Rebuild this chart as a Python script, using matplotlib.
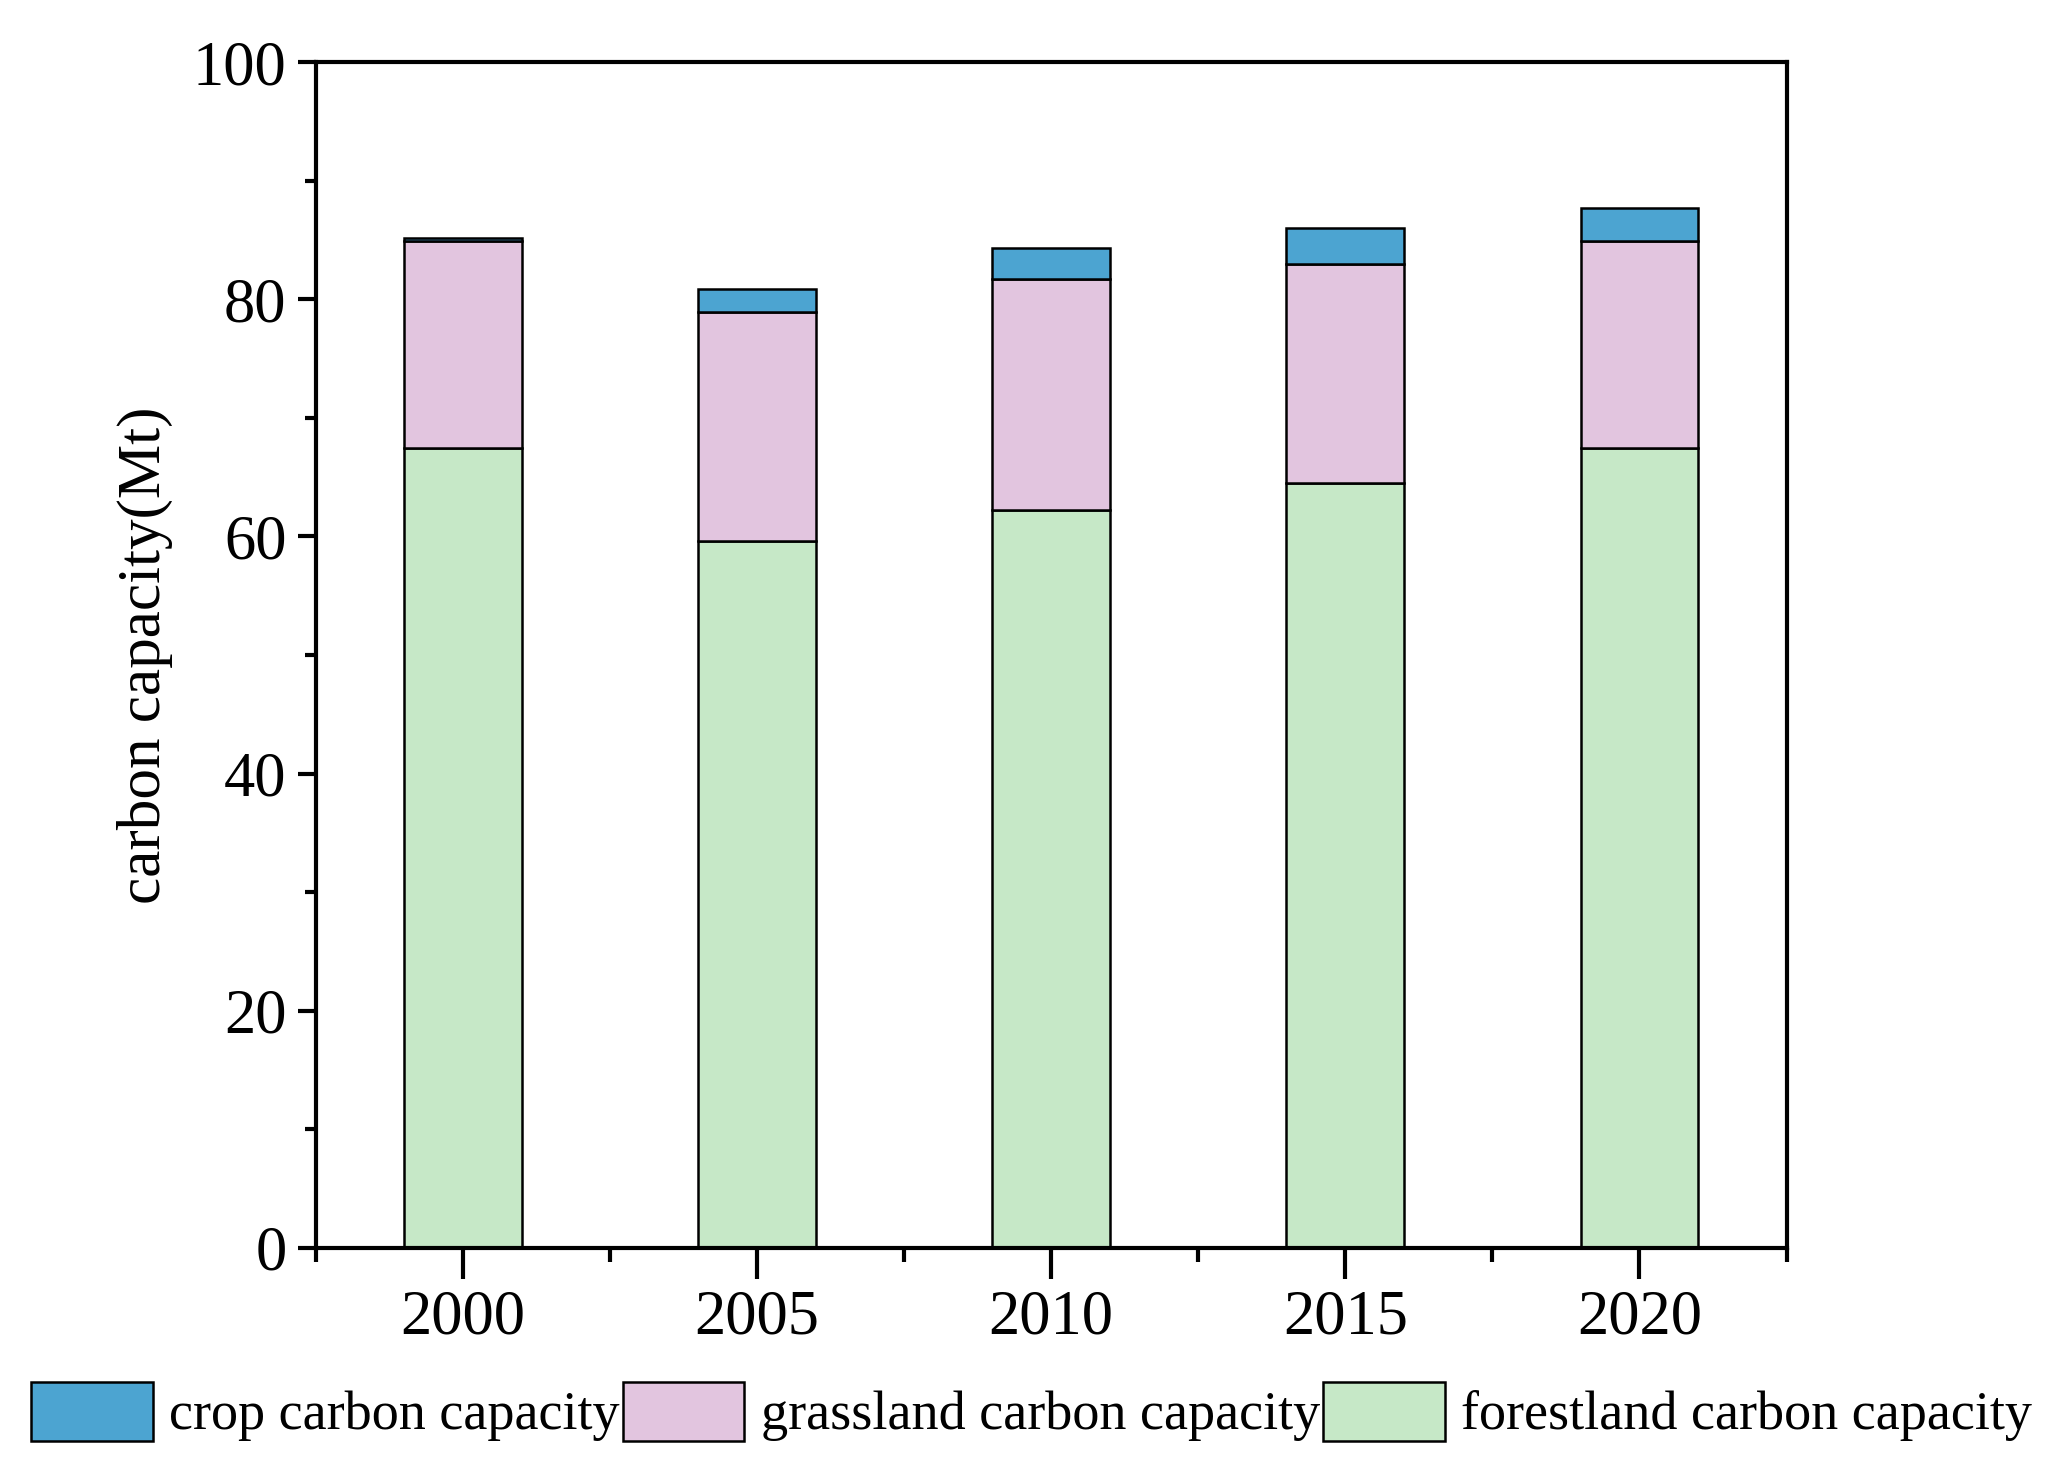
import matplotlib
matplotlib.use("Agg")
import matplotlib.pyplot as plt
import numpy as np

plt.rcParams['font.family'] = ['Liberation Serif', 'DejaVu Serif']

# data (Mt)
years = ['2000', '2005', '2010', '2015', '2020']
forest = [67.5, 59.6, 62.2, 64.5, 67.5]
grass = [17.4, 19.3, 19.5, 18.5, 17.4]
crop = [0.3, 2.0, 2.6, 3.0, 2.8]

crop_color = '#4CA4D1'
grass_color = '#E2C5DF'
forest_color = '#C6E8C7'

fig = plt.figure(figsize=(20.63, 14.81), dpi=100)
ax = fig.add_axes([0.153, 0.1575, 0.713, 0.8005])

x = np.arange(len(years))
w = 0.4
lw = 1.8
b_forest = ax.bar(x, forest, w, color=forest_color, edgecolor='black', linewidth=lw,
                  label='forestland carbon capacity')
b_grass = ax.bar(x, grass, w, bottom=forest, color=grass_color, edgecolor='black',
                 linewidth=lw, label='grassland carbon capacity')
bottom2 = [f + g for f, g in zip(forest, grass)]
b_crop = ax.bar(x, crop, w, bottom=bottom2, color=crop_color, edgecolor='black',
                linewidth=lw, label='crop carbon capacity')

ax.set_xlim(-0.5, 4.5)
ax.set_ylim(0, 100)
ax.set_xticks(x)
ax.set_xticklabels(years)
ax.set_xticks(np.arange(-0.5, 4.6, 1), minor=True)
ax.set_yticks(np.arange(0, 101, 20))
ax.set_yticks(np.arange(10, 100, 20), minor=True)

for s in ax.spines.values():
    s.set_linewidth(3)
ax.tick_params(which='major', direction='out', length=13, width=3, labelsize=45,
               top=False, right=False, pad=8)
ax.tick_params(which='minor', direction='out', length=8, width=3,
               top=False, right=False)
ax.tick_params(axis='x', which='major', length=22, pad=8)
ax.tick_params(axis='x', which='minor', length=10)

ax.set_ylabel('carbon capacity(Mt)', fontsize=44, labelpad=14)

fig.legend([b_crop, b_grass, b_forest],
           ['crop carbon capacity', 'grassland carbon capacity', 'forestland carbon capacity'],
           loc='center', bbox_to_anchor=(0.5, 0.047), ncol=3, frameon=False,
           fontsize=39, handlelength=2.25, handleheight=1.3, handletextpad=0.3,
           columnspacing=0.05, borderaxespad=0)

fig.savefig('out.png', dpi=100)
